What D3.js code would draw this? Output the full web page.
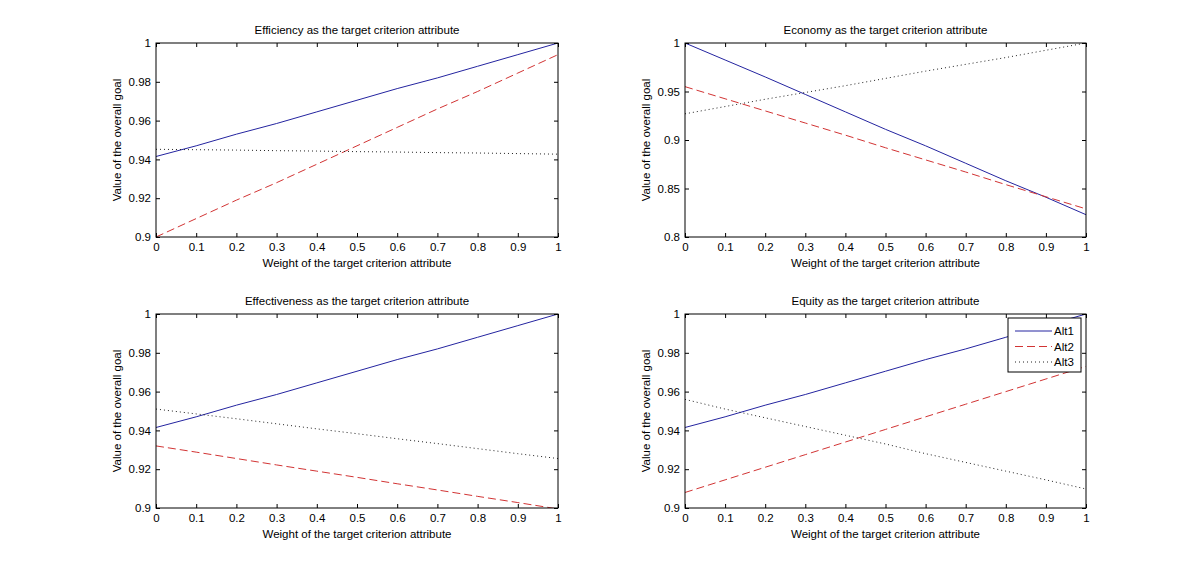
<!DOCTYPE html>
<html>
<head>
<meta charset="utf-8">
<script src="https://cdn.jsdelivr.net/npm/d3@7/dist/d3.min.js"></script>
<style>
  html, body { margin: 0; padding: 0; background: #fff; }
  svg { display: block; }
  text { font-family: "Liberation Sans", Arial, Helvetica, sans-serif; fill: #000; }
</style>
</head>
<body>
<svg id="chart" width="1200" height="572"></svg>
<script>
// ---------- data ----------
const weights = [0, 0.1, 0.2, 0.3, 0.4, 0.5, 0.6, 0.7, 0.8, 0.9, 1.0];
const seriesNames = ["Alt1", "Alt2", "Alt3"];
const panelTitles = [
  "Efficiency as the target criterion attribute",
  "Economy as the target criterion attribute",
  "Effectiveness as the target criterion attribute",
  "Equity as the target criterion attribute"
];
const yDomains = [[0.9, 1], [0.8, 1], [0.9, 1], [0.9, 1]];
const yTickLabels = [
  ["0.9", "0.92", "0.94", "0.96", "0.98", "1"],
  ["0.8", "0.85", "0.9", "0.95", "1"],
  ["0.9", "0.92", "0.94", "0.96", "0.98", "1"],
  ["0.9", "0.92", "0.94", "0.96", "0.98", "1"]
];
const xTickLabels = ["0", "0.1", "0.2", "0.3", "0.4", "0.5", "0.6", "0.7", "0.8", "0.9", "1"];

// Efficiency
const effAlt1 = [0.9415, 0.947, 0.953, 0.9585, 0.9645, 0.9705, 0.9765, 0.982, 0.988, 0.994, 1.0];
const effAlt2 = [0.9000, 0.9095, 0.919, 0.928, 0.9375, 0.947, 0.9565, 0.966, 0.975, 0.9845, 0.994];
const effAlt3 = [0.9452, 0.9450, 0.9448, 0.9445, 0.9443, 0.9440, 0.9438, 0.9435, 0.9433, 0.9430, 0.9427];
// Economy
const ecoAlt1 = [1.0, 0.9825, 0.965, 0.947, 0.929, 0.911, 0.894, 0.876, 0.858, 0.841, 0.823];
const ecoAlt2 = [0.955, 0.9425, 0.930, 0.9175, 0.905, 0.892, 0.8795, 0.867, 0.854, 0.8415, 0.829];
const ecoAlt3 = [0.927, 0.9345, 0.942, 0.949, 0.956, 0.9635, 0.971, 0.978, 0.985, 0.9925, 1.0];
// Effectiveness
const efvAlt1 = [0.9415, 0.947, 0.953, 0.9585, 0.9645, 0.9705, 0.9765, 0.982, 0.988, 0.994, 1.0];
const efvAlt2 = [0.932, 0.9288, 0.9255, 0.9222, 0.919, 0.9158, 0.9125, 0.9093, 0.906, 0.9028, 0.8995];
const efvAlt3 = [0.951, 0.9485, 0.946, 0.9434, 0.9408, 0.9383, 0.9357, 0.9332, 0.9306, 0.928, 0.9255];
// Equity
const equAlt1 = [0.9415, 0.947, 0.953, 0.9585, 0.9645, 0.9705, 0.9765, 0.982, 0.988, 0.994, 1.0];
const equAlt2 = [0.908, 0.9145, 0.921, 0.9275, 0.934, 0.9405, 0.947, 0.9535, 0.96, 0.9665, 0.973];
const equAlt3 = [0.956, 0.951, 0.9465, 0.942, 0.9375, 0.933, 0.928, 0.9235, 0.919, 0.9145, 0.9098];

const panelSeries = [
  [effAlt1, effAlt2, effAlt3],
  [ecoAlt1, ecoAlt2, ecoAlt3],
  [efvAlt1, efvAlt2, efvAlt3],
  [equAlt1, equAlt2, equAlt3]
];

// ---------- styles / layout ----------
const colors = ["#2424a0", "#d23434", "#222222"];
const dashes = [null, "8,4", "1,3"];
const boxes = [
  {x0: 156, x1: 558, y0: 43, y1: 237},
  {x0: 685, x1: 1086, y0: 43, y1: 237},
  {x0: 156, x1: 558, y0: 314, y1: 508},
  {x0: 685, x1: 1086, y0: 314, y1: 508}
];
const tickLen = 4;

const svg = d3.select("#chart");
svg.append("rect").attr("width", 1200).attr("height", 572).attr("fill", "#fff");

panelTitles.forEach((title, i) => {
  const b = boxes[i];
  const x = d3.scaleLinear().domain([0, 1]).range([b.x0, b.x1]);
  const y = d3.scaleLinear().domain(yDomains[i]).range([b.y1, b.y0]);
  const yTicks = yTickLabels[i].map(Number);
  const xTicks = xTickLabels.map(Number);
  const g = svg.append("g");

  // clip
  const clipId = "clip" + i;
  g.append("clipPath").attr("id", clipId)
    .append("rect").attr("x", b.x0).attr("y", b.y0)
    .attr("width", b.x1 - b.x0).attr("height", b.y1 - b.y0);

  // lines
  const line = d3.line().x((d, k) => x(weights[k])).y(d => y(d));
  panelSeries[i].forEach((vals, s) => {
    g.append("path")
      .attr("clip-path", `url(#${clipId})`)
      .attr("d", line(vals))
      .attr("fill", "none")
      .attr("stroke", colors[s])
      .attr("stroke-width", 1)
      .attr("stroke-dasharray", dashes[s]);
  });

  // axes: bottom, left with inward ticks
  const xAxis = d3.axisBottom(x).tickValues(xTicks).tickFormat((d, k) => xTickLabels[k])
    .tickSizeInner(-tickLen).tickSizeOuter(0).tickPadding(8);
  const yAxis = d3.axisLeft(y).tickValues(yTicks).tickFormat((d, k) => yTickLabels[i][k])
    .tickSizeInner(-tickLen).tickSizeOuter(0).tickPadding(8);
  const xTop = d3.axisTop(x).tickValues(xTicks).tickFormat("").tickSizeInner(-tickLen).tickSizeOuter(0);
  const yRight = d3.axisRight(y).tickValues(yTicks).tickFormat("").tickSizeInner(-tickLen).tickSizeOuter(0);

  const gx = g.append("g").attr("transform", `translate(0,${b.y1})`).call(xAxis);
  const gy = g.append("g").attr("transform", `translate(${b.x0},0)`).call(yAxis);
  const gxt = g.append("g").attr("transform", `translate(0,${b.y0})`).call(xTop);
  const gyr = g.append("g").attr("transform", `translate(${b.x1},0)`).call(yRight);
  [gx, gy, gxt, gyr].forEach(a => {
    a.select(".domain").remove();
    a.selectAll(".tick line").attr("stroke", "#000").attr("stroke-width", 1);
    a.selectAll("text").style("font-family", '"Liberation Sans", Arial, sans-serif')
      .style("font-size", "11.5px").attr("fill", "#000");
  });
  gx.selectAll(".tick text").attr("dy", "0.71em").attr("y", 6);
  gy.selectAll(".tick text").attr("x", -5);

  // box
  g.append("rect").attr("x", b.x0).attr("y", b.y0)
    .attr("width", b.x1 - b.x0).attr("height", b.y1 - b.y0)
    .attr("fill", "none").attr("stroke", "#000").attr("stroke-width", 1);

  // title
  g.append("text").attr("x", (b.x0 + b.x1) / 2).attr("y", b.y0 - 9)
    .attr("text-anchor", "middle").style("font-size", "11.5px").text(title);
  // x label
  g.append("text").attr("x", (b.x0 + b.x1) / 2).attr("y", b.y1 + 30)
    .attr("text-anchor", "middle").style("font-size", "11.5px")
    .text("Weight of the target criterion attribute");
  // y label
  g.append("text")
    .attr("transform", `translate(${b.x0 - 39},${(b.y0 + b.y1) / 2}) rotate(-90)`)
    .attr("text-anchor", "middle").attr("dominant-baseline", "central")
    .style("font-size", "11.5px").text("Value of the overall goal");
});

// legend in last panel
const lg = svg.append("g");
const lx0 = 1008, ly0 = 318, lw = 73, lh = 54;
lg.append("rect").attr("x", lx0).attr("y", ly0).attr("width", lw).attr("height", lh)
  .attr("fill", "#fff").attr("stroke", "#000").attr("stroke-width", 1);
seriesNames.forEach((name, s) => {
  const yy = ly0 + 13 + s * 15.5;
  lg.append("line").attr("x1", lx0 + 7).attr("x2", lx0 + 44).attr("y1", yy).attr("y2", yy)
    .attr("stroke", colors[s]).attr("stroke-width", 1).attr("stroke-dasharray", dashes[s]);
  lg.append("text").attr("x", lx0 + 46).attr("y", yy).attr("dominant-baseline", "central")
    .style("font-size", "11.5px").text(name);
});
</script>
</body>
</html>
